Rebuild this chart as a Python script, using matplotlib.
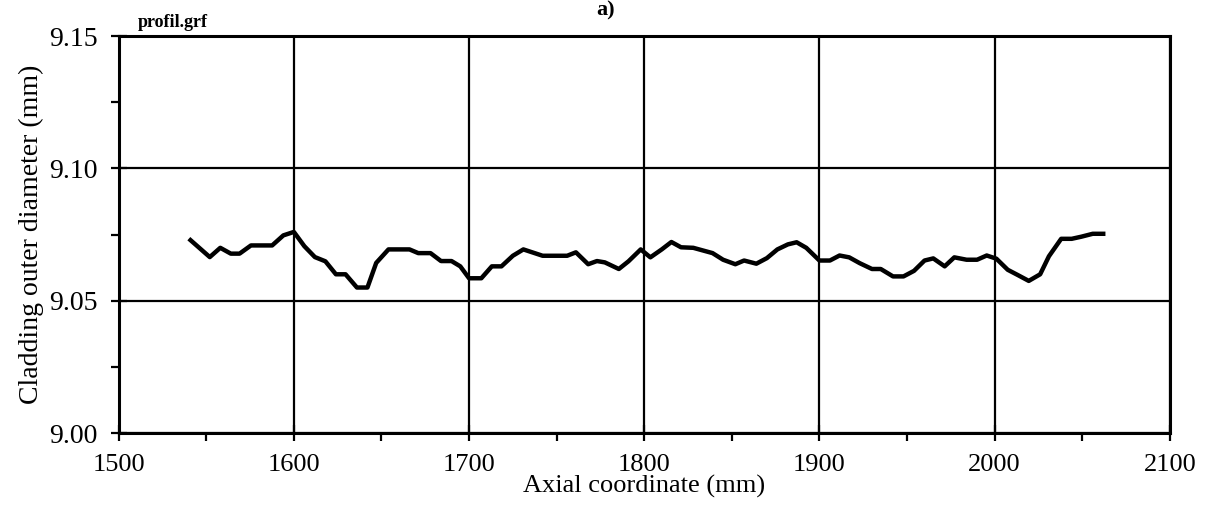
import numpy as np
from matplotlib import pyplot as plt
from matplotlib.ticker import MultipleLocator

plt.rcParams['font.family'] = ['Liberation Serif', 'DejaVu Serif']

# axial position (mm) and cladding outer diameter (mm)
axial = [1541, 1552, 1558, 1564, 1569, 1575.5, 1587.6, 1594, 1600, 1606,
         1612, 1618, 1624, 1629.5, 1636, 1642, 1647, 1654, 1666, 1671,
         1678, 1684, 1690, 1695, 1700, 1707, 1713, 1718.5, 1725, 1731,
         1742, 1756, 1761, 1768, 1773, 1777.5, 1785.5, 1791, 1798, 1803.5,
         1810, 1815.5, 1821, 1828, 1839, 1845, 1852, 1857, 1864, 1870,
         1876, 1882, 1887, 1892.5, 1900, 1906, 1911.5, 1917, 1923, 1930,
         1935, 1942, 1948, 1954, 1960, 1965, 1971.5, 1977, 1984, 1990,
         1995.5, 2001, 2007.5, 2013, 2019.5, 2026, 2031, 2038, 2044, 2049.5,
         2056, 2062]
diam = [9.0729, 9.0665, 9.0700, 9.0678, 9.0678, 9.0709, 9.0709, 9.0747, 9.0760, 9.0706,
        9.0665, 9.0649, 9.0600, 9.0600, 9.0550, 9.0550, 9.0643, 9.0694, 9.0694, 9.0680,
        9.0680, 9.0650, 9.0650, 9.0630, 9.0585, 9.0585, 9.0630, 9.0630, 9.0670, 9.0694,
        9.0670, 9.0670, 9.0683, 9.0638, 9.0650, 9.0645, 9.0620, 9.0649, 9.0694, 9.0664,
        9.0694, 9.0722, 9.0702, 9.0700, 9.0680, 9.0655, 9.0638, 9.0652, 9.0640, 9.0661,
        9.0694, 9.0713, 9.0721, 9.0700, 9.0652, 9.0652, 9.0671, 9.0664, 9.0642, 9.0620,
        9.0620, 9.0592, 9.0592, 9.0613, 9.0652, 9.0660, 9.0630, 9.0664, 9.0655, 9.0655,
        9.0671, 9.0659, 9.0617, 9.0598, 9.0575, 9.0600, 9.0668, 9.0734, 9.0734, 9.0742,
        9.0753, 9.0753]

fig = plt.figure(figsize=(12.16, 5.15), dpi=100)
ax = fig.add_axes([0.0976, 0.159, 0.8644, 0.771])

ax.plot(axial, diam, color='black', linewidth=3.2, solid_joinstyle='round')

ax.set_xlim(1500, 2100)
ax.set_ylim(9.00, 9.15)
ax.xaxis.set_major_locator(MultipleLocator(100))
ax.xaxis.set_minor_locator(MultipleLocator(50))
ax.yaxis.set_major_locator(MultipleLocator(0.05))
ax.yaxis.set_minor_locator(MultipleLocator(0.025))
ax.yaxis.set_major_formatter(plt.FormatStrFormatter('%.2f'))

ax.grid(True, which='major', color='black', linewidth=1.6)
for s in ax.spines.values():
    s.set_linewidth(2.2)
ax.tick_params(which='major', direction='inout', length=12, width=1.6)
ax.tick_params(which='minor', direction='out', length=6, width=1.6)
ax.tick_params(axis='x', which='major', labelsize=19, pad=9)
ax.tick_params(axis='y', which='major', labelsize=20, pad=9)

ax.set_xlabel('Axial coordinate (mm)', fontsize=19, labelpad=-1)
ax.set_ylabel('Cladding outer diameter (mm)', fontsize=20, labelpad=4)

fig.text(0.113, 0.957, 'profil.grf', fontsize=13, fontweight='bold', va='center')
fig.text(0.498, 1.0, 'a)', fontsize=16, fontweight='bold', ha='center', va='top')

plt.savefig('out.png', dpi=100)
